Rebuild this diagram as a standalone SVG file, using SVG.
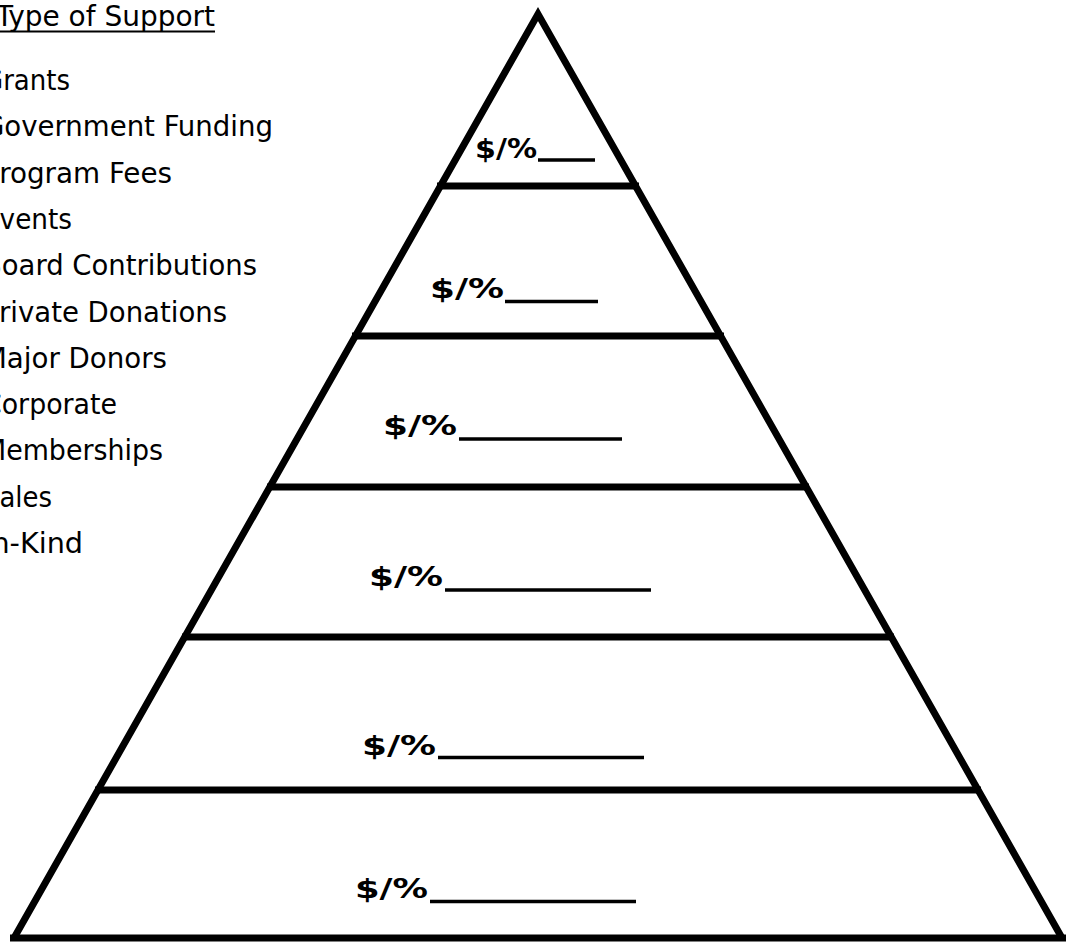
<svg xmlns="http://www.w3.org/2000/svg" width="1073" height="943" viewBox="0 0 1073 943">
<style>
.list{font-family:"DejaVu Sans Condensed","DejaVu Sans",sans-serif;font-size:28px;fill:#000}
.lbl{font-family:"DejaVu Sans","Liberation Sans",sans-serif;font-size:26px;font-weight:bold;fill:#000}
.edge{stroke:#000;stroke-width:7;fill:none}
.blank{stroke:#000;stroke-width:3.5}
</style>
<rect width="1073" height="943" fill="#fff"/>
<g id="legend">
<text class="list" x="-4" y="26" textLength="219" lengthAdjust="spacingAndGlyphs">Type of Support</text>
<line x1="0" y1="31.5" x2="215" y2="31.5" stroke="#000" stroke-width="2"/>
<text class="list" x="-17" y="90" textLength="87" lengthAdjust="spacingAndGlyphs">Grants</text>
<text class="list" x="-17" y="136" textLength="290" lengthAdjust="spacingAndGlyphs">Government Funding</text>
<text class="list" x="-17" y="183" textLength="189" lengthAdjust="spacingAndGlyphs">Program Fees</text>
<text class="list" x="-17" y="229" textLength="89" lengthAdjust="spacingAndGlyphs">Events</text>
<text class="list" x="-17" y="275" textLength="274" lengthAdjust="spacingAndGlyphs">Board Contributions</text>
<text class="list" x="-17" y="322" textLength="244" lengthAdjust="spacingAndGlyphs">Private Donations</text>
<text class="list" x="-17" y="368" textLength="184" lengthAdjust="spacingAndGlyphs">Major Donors</text>
<text class="list" x="-17" y="414" textLength="134" lengthAdjust="spacingAndGlyphs">Corporate</text>
<text class="list" x="-17" y="460" textLength="180" lengthAdjust="spacingAndGlyphs">Memberships</text>
<text class="list" x="-17" y="507" textLength="69" lengthAdjust="spacingAndGlyphs">Sales</text>
<text class="list" x="-17" y="553" textLength="100" lengthAdjust="spacingAndGlyphs">In-Kind</text>
</g>
<g id="pyramid">
<path class="edge" d="M14,938 L538,14 L1062,938" stroke-linejoin="miter"/>
<line class="edge" x1="437" y1="186" x2="639" y2="186"/>
<line class="edge" x1="352" y1="336" x2="724" y2="336"/>
<line class="edge" x1="267" y1="487" x2="809" y2="487"/>
<line class="edge" x1="182" y1="637" x2="894" y2="637"/>
<line class="edge" x1="95" y1="790" x2="981" y2="790"/>
<line class="edge" x1="10" y1="938" x2="1066" y2="938"/>
</g>
<g id="tier1"><text class="lbl" x="475" y="158" font-size="22" textLength="62" lengthAdjust="spacingAndGlyphs">$/%</text><line class="blank" x1="538" y1="160" x2="595" y2="160"/></g>
<g id="tier2"><text class="lbl" x="430" y="298" textLength="74" lengthAdjust="spacingAndGlyphs">$/%</text><line class="blank" x1="505" y1="301.5" x2="598" y2="301.5"/></g>
<g id="tier3"><text class="lbl" x="383" y="435" textLength="74" lengthAdjust="spacingAndGlyphs">$/%</text><line class="blank" x1="459" y1="439" x2="622" y2="439"/></g>
<g id="tier4"><text class="lbl" x="369" y="586" textLength="74" lengthAdjust="spacingAndGlyphs">$/%</text><line class="blank" x1="445" y1="590" x2="651" y2="590"/></g>
<g id="tier5"><text class="lbl" x="362" y="755" textLength="74" lengthAdjust="spacingAndGlyphs">$/%</text><line class="blank" x1="438" y1="757.5" x2="644" y2="757.5"/></g>
<g id="tier6"><text class="lbl" x="355" y="898" textLength="73" lengthAdjust="spacingAndGlyphs">$/%</text><line class="blank" x1="430" y1="901.5" x2="636" y2="901.5"/></g>
</svg>
